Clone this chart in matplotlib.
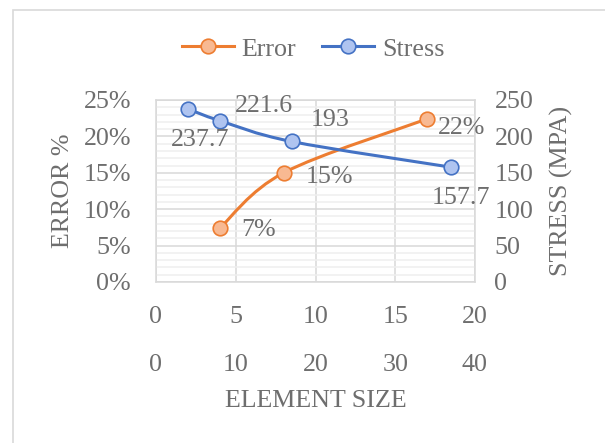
import numpy as np
import matplotlib
matplotlib.use("Agg")
import matplotlib.pyplot as plt
from matplotlib.path import Path
from matplotlib.patches import PathPatch, Rectangle
from matplotlib.lines import Line2D
from matplotlib.ticker import MultipleLocator, PercentFormatter

# ---- data ----
error_size = [4, 8, 17]
error_vals = [0.074, 0.15, 0.224]
error_labels = ["7%", "15%", "22%"]

stress_size = [4, 8, 17, 37]
stress_vals = [237.7, 221.6, 193, 157.7]
stress_labels = ["237.7", "221.6", "193", "157.7"]

x1_ticks = [0, 5, 10, 15, 20]
x2_ticks = [0, 10, 20, 30, 40]

ORANGE = "#ED7D31"
ORANGE_FILL = "#F8B992"
BLUE = "#4472C4"
BLUE_FILL = "#AFC4F0"
TXT = "#6E6E6E"
GRID = "#D9D9D9"
MINOR = "#EFEFEF"

plt.rcParams["font.family"] = ["Liberation Serif", "DejaVu Serif"]
FS = 18.7

fig = plt.figure(figsize=(6.05, 4.43), dpi=100)
fig.patch.set_facecolor("white")
# chart border
fig.patches.append(Rectangle((13 / 605, -1), 2, 1 + (443 - 10) / 443,
                             transform=fig.transFigure, fill=False,
                             edgecolor=GRID, linewidth=1.2))

rect = [156 / 605, 1 - 282 / 443, (475 - 156) / 605, (282 - 100) / 443]
ax = fig.add_axes(rect)
ax2 = fig.add_axes(rect, label="secondary")
ax2.patch.set_visible(False)


def smooth_path(xs, ys):
    pts = np.column_stack([xs, ys]).astype(float)
    n = len(pts)
    verts = [pts[0]]
    codes = [Path.MOVETO]
    for i in range(n - 1):
        p0 = pts[max(i - 1, 0)]
        p1 = pts[i]
        p2 = pts[i + 1]
        p3 = pts[min(i + 2, n - 1)]
        c1 = p1 + (p2 - p0) / 6
        c2 = p2 - (p3 - p1) / 6
        verts += [c1, c2, p2]
        codes += [Path.CURVE4] * 3
    return Path(verts, codes)


# primary axis (Error)
ax.set_xlim(0, 20)
ax.set_ylim(0, 0.25)
ax.set_xticks(x1_ticks)
ax.yaxis.set_major_locator(MultipleLocator(0.05))
ax.yaxis.set_minor_locator(MultipleLocator(0.01))
ax.yaxis.set_major_formatter(PercentFormatter(1.0, decimals=0))
ax.grid(True, which="major", color=GRID, linewidth=1.1, zorder=0)
ax.grid(True, which="minor", axis="y", color=MINOR, linewidth=1.1, zorder=0)
ax.set_axisbelow(True)
for s in ax.spines.values():
    s.set_color(GRID)
    s.set_linewidth(1.1)
ax.tick_params(axis="both", which="both", length=0, labelsize=FS, labelcolor=TXT)
ax.tick_params(axis="y", pad=18)
ax.tick_params(axis="x", pad=17)
ax.set_ylabel("ERROR %", fontsize=FS, color=TXT, labelpad=7)

ax.add_patch(PathPatch(smooth_path(error_size, error_vals), facecolor="none",
                       edgecolor=ORANGE, linewidth=2.2, capstyle="round", zorder=3))
ax.plot(error_size, error_vals, linestyle="none", marker="o", markersize=10.5,
        markerfacecolor=ORANGE_FILL, markeredgecolor=ORANGE, markeredgewidth=1.2, zorder=4)

err_off = [(39, -2), (46, -4), (34, -9)]
for x, y, lab, off in zip(error_size, error_vals, error_labels, err_off):
    ax.annotate(lab, (x, y), xytext=off, textcoords="offset pixels",
                ha="center", va="center", fontsize=FS, color=TXT, zorder=5)

# secondary axis (Stress)
ax2.set_xlim(0, 40)
ax2.set_ylim(0, 250)
ax2.set_xticks(x2_ticks)
ax2.yaxis.set_major_locator(MultipleLocator(50))
ax2.yaxis.tick_right()
ax2.yaxis.set_label_position("right")
for s in ax2.spines.values():
    s.set_visible(False)
ax2.tick_params(axis="both", length=0, labelsize=FS, labelcolor=TXT)
ax2.tick_params(axis="x", pad=52)
ax2.tick_params(axis="y", pad=14)
ax2.set_ylabel("STRESS (MPA)", fontsize=FS, color=TXT, labelpad=12)
ax2.set_xlabel("ELEMENT SIZE", fontsize=FS, color=TXT, labelpad=10)

ax2.add_patch(PathPatch(smooth_path(stress_size, stress_vals), facecolor="none",
                        edgecolor=BLUE, linewidth=2.2, capstyle="round", zorder=3))
ax2.plot(stress_size, stress_vals, linestyle="none", marker="o", markersize=10.5,
         markerfacecolor=BLUE_FILL, markeredgecolor=BLUE, markeredgewidth=1.2, zorder=4)

st_off = [(12, -31), (44, 15), (39, 21), (10, -31)]
for x, y, lab, off in zip(stress_size, stress_vals, stress_labels, st_off):
    ax2.annotate(lab, (x, y), xytext=off, textcoords="offset pixels",
                 ha="center", va="center", fontsize=FS, color=TXT, zorder=5)

# legend
handles = [
    Line2D([], [], color=ORANGE, linewidth=2.2, marker="o", markersize=10.5,
           markerfacecolor=ORANGE_FILL, markeredgecolor=ORANGE, markeredgewidth=1.2),
    Line2D([], [], color=BLUE, linewidth=2.2, marker="o", markersize=10.5,
           markerfacecolor=BLUE_FILL, markeredgecolor=BLUE, markeredgewidth=1.2),
]
leg = fig.legend(handles, ["Error", "Stress"], loc="center",
                 bbox_to_anchor=(313 / 605, 1 - 49 / 443), ncol=2, frameon=False,
                 fontsize=FS, handlelength=2.0, handletextpad=0.3,
                 columnspacing=1.0, labelcolor=TXT)

fig.savefig("out.png", dpi=100, facecolor="white")
